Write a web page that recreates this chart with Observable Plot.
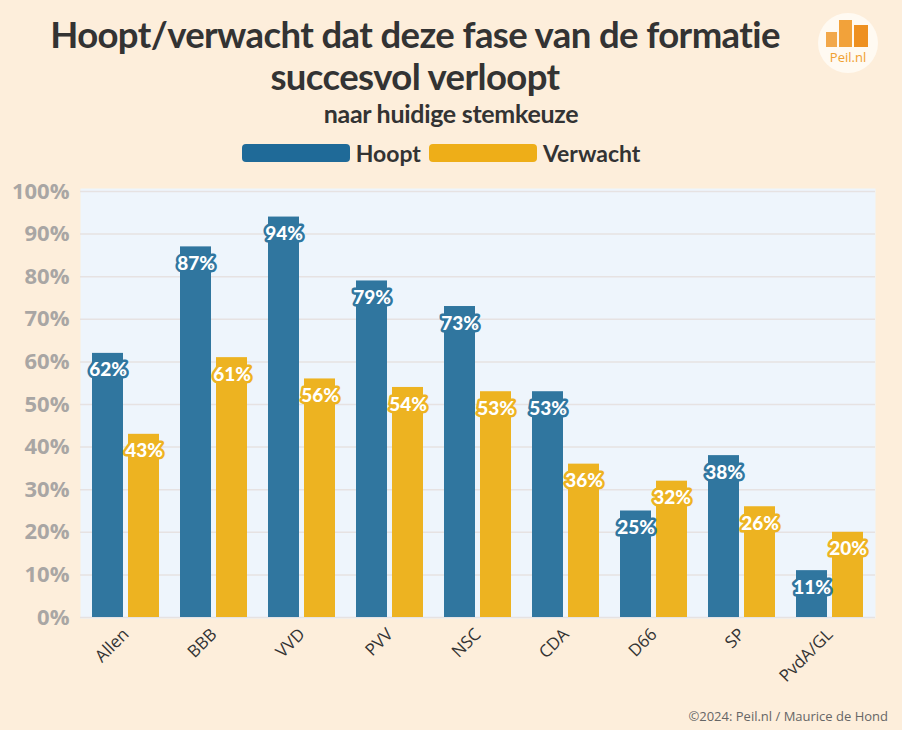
<!DOCTYPE html>
<html>
<head>
<meta charset="utf-8">
<script src="https://cdn.jsdelivr.net/npm/d3@7"></script>
<script src="https://cdn.jsdelivr.net/npm/@observablehq/plot@0.6"></script>
<style>
  html, body { margin: 0; padding: 0; }
  body { width: 902px; height: 730px; background: #fdeedb; position: relative; overflow: hidden; font-family: Lato, "Open Sans", sans-serif; color: #333; }
  #title { position: absolute; left: 0; width: 830px; top: 13px; text-align: center; font-weight: 700; font-size: 36.5px; line-height: 42px; letter-spacing: -0.6px; color: #333; }
  #subtitle { position: absolute; left: 0; width: 902px; top: 98px; text-align: center; font-weight: 700; font-size: 25px; color: #333; letter-spacing: -0.3px; }
  #legend { position: absolute; left: -10px; width: 902px; top: 139px; display: flex; justify-content: center; align-items: center; font-weight: 700; font-size: 23px; color: #333; }
  .sw { width: 108px; height: 18px; border-radius: 4px; margin-right: 6px; display: inline-block; }
  .item { display: flex; align-items: center; margin: 0 4px; }
  #chart { position: absolute; left: 0; top: 170px; }
  #caption { position: absolute; right: 14px; top: 707px; font-size: 13px; color: #666; font-family: "Open Sans", Lato, sans-serif; }
  #logo { position: absolute; left: 817px; top: 12px; }
  #chart svg g[aria-label="y-axis tick label"] text { font-weight: 700; font-family: "Open Sans", sans-serif; }
  #chart svg g[aria-label="x-axis tick label"] text { font-family: "Open Sans", sans-serif; }
</style>
</head>
<body>
<div id="title">Hoopt/verwacht dat deze fase van de formatie<br>succesvol verloopt</div>
<div id="subtitle">naar huidige stemkeuze</div>
<div id="legend"></div>
<div id="logo">
  <svg width="62" height="62" viewBox="0 0 62 62">
    <circle cx="31" cy="31" r="30" fill="#fffaf2"/>
    <rect x="9" y="20" width="11" height="15" fill="#f2a84a"/>
    <rect x="22" y="8" width="13" height="27" fill="#f2a23a"/>
    <rect x="37" y="13" width="14" height="22" fill="#ee9020"/>
    <text x="31" y="50" text-anchor="middle" font-family="Open Sans, sans-serif" font-size="13" fill="#f0a030">Peil.nl</text>
  </svg>
</div>
<div id="chart"></div>
<div id="caption">©2024: Peil.nl / Maurice de Hond</div>
<script>
const parties = ["Allen", "BBB", "VVD", "PVV", "NSC", "CDA", "D66", "SP", "PvdA/GL"];
const hoopt = [62, 87, 94, 79, 73, 53, 25, 38, 11];
const verwacht = [43, 61, 56, 54, 53, 36, 32, 26, 20];
const seriesNames = ["Hoopt", "Verwacht"];
const barColors = ["#30769f", "#edb321"];
const legendColors = ["#1f6a98", "#eeae18"];
const yTicks = [0, 10, 20, 30, 40, 50, 60, 70, 80, 90, 100];

const rowsH = parties.map((p, i) => ({party: p, series: "Hoopt", value: hoopt[i]}));
const rowsV = parties.map((p, i) => ({party: p, series: "Verwacht", value: verwacht[i]}));

// legend
const legend = document.getElementById("legend");
seriesNames.forEach((s, i) => {
  const it = document.createElement("div");
  it.className = "item";
  const sw = document.createElement("span");
  sw.className = "sw";
  sw.style.background = legendColors[i];
  it.appendChild(sw);
  it.appendChild(document.createTextNode(s));
  legend.appendChild(it);
});

const labelStyle = {fill: "white", strokeWidth: 5, fontSize: 19, fontWeight: 900, dy: 17};

const chart = Plot.plot({
  width: 902,
  height: 537,
  marginLeft: 80,
  marginRight: 27,
  marginTop: 21,
  marginBottom: 90,
  style: {background: "transparent", fontFamily: "Lato, sans-serif"},
  x: {domain: parties, paddingInner: 0.24, paddingOuter: 0.12, label: null},
  y: {domain: [0, 100], label: null},
  marks: [
    Plot.frame({fill: "#eef5fc", stroke: null, insetTop: -3, insetBottom: -1}),
    Plot.gridY(yTicks, {stroke: "#e6e2e2", strokeOpacity: 1, strokeWidth: 1.5}),
    Plot.axisY({ticks: yTicks, tickFormat: d => d + "%", tickSize: 0, tickPadding: 11, fill: "#a9a6a4", fontSize: 22, label: null}),
    Plot.axisX({tickRotate: -45, tickSize: 0, tickPadding: 14, fill: "#333", fontSize: 17, label: null}),
    Plot.barY(rowsH, {x: "party", y: "value", fill: barColors[0], insetRight: 36}),
    Plot.barY(rowsV, {x: "party", y: "value", fill: barColors[1], insetLeft: 36}),
    Plot.text(rowsH, {x: "party", y: "value", text: d => d.value + "%", dx: -18, stroke: barColors[0], ...labelStyle}),
    Plot.text(rowsV, {x: "party", y: "value", text: d => d.value + "%", dx: 18, stroke: barColors[1], ...labelStyle})
  ]
});
document.getElementById("chart").appendChild(chart);
</script>
</body>
</html>
